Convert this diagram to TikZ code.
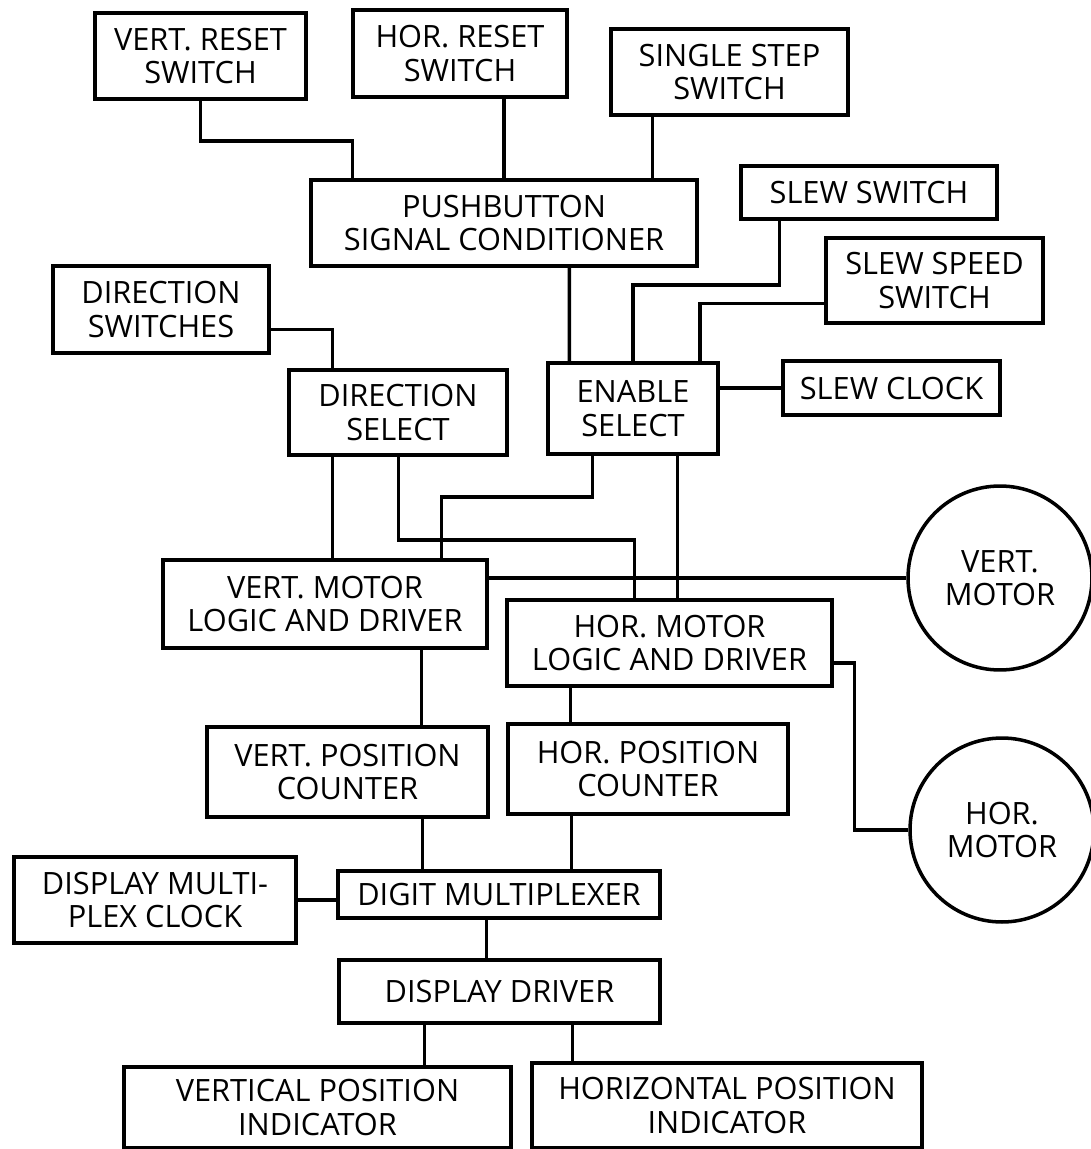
\documentclass[tikz,border=0pt]{standalone}
\usepackage{fontspec}
\setmainfont{Open Sans}
\usetikzlibrary{calc}
\tikzstyle{block} = [rectangle, draw=black, line width=2pt, align=center, inner sep=0pt, font=\fontsize{17.5}{19}\selectfont]
\tikzstyle{motor} = [circle, draw=black, line width=2pt, align=center, inner sep=0pt, minimum size=3.68cm, font=\fontsize{17.5}{19}\selectfont]
\tikzstyle{wire} = [line width=2pt]

\begin{document}
\begin{tikzpicture}[x=0.02cm, y=-0.02cm]
\useasboundingbox (0,0) rectangle (1091,1149);

% switches and conditioner
\node (vreset) [block, minimum width=4.22cm, minimum height=1.72cm] at (200.5,56) {VERT. RESET\\SWITCH};
\node (hreset) [block, minimum width=4.28cm, minimum height=1.74cm] at (460,53.5) {HOR. RESET\\SWITCH};
\node (sstep) [block, minimum width=4.74cm, minimum height=1.72cm] at (729.5,72) {SINGLE STEP\\SWITCH};
\node (pushbtn) [block, minimum width=7.72cm, minimum height=1.72cm] at (504,223) {PUSHBUTTON\\SIGNAL CONDITIONER};
\node (slewsw) [block, minimum width=5.12cm, minimum height=1.06cm] at (869,192.5) {SLEW SWITCH};
\node (slewspd) [block, minimum width=4.34cm, minimum height=1.70cm] at (934.5,280.5) {SLEW SPEED\\SWITCH};
\node (dirsw) [block, minimum width=4.32cm, minimum height=1.74cm] at (161,309.5) {DIRECTION\\SWITCHES};

% select stage
\node (dirsel) [block, minimum width=4.36cm, minimum height=1.70cm] at (398,412.5) {DIRECTION\\SELECT};
\node (ensel) [block, minimum width=3.40cm, minimum height=1.82cm] at (633,408.5) {ENABLE\\SELECT};
\node (slewclk) [block, minimum width=4.34cm, minimum height=1.08cm] at (891.5,388) {SLEW CLOCK};

% motors
\node (vmotor) [block, minimum width=6.48cm, minimum height=1.76cm] at (325,604) {VERT. MOTOR\\LOGIC AND DRIVER};
\node (hmotor) [block, minimum width=6.50cm, minimum height=1.72cm] at (669.5,643) {HOR. MOTOR\\LOGIC AND DRIVER};
\node (vmot) [motor] at (1000,578) {VERT.\\MOTOR};
\node (hmot) [motor] at (1002,830) {HOR.\\MOTOR};

% counters and display
\node (vposc) [block, minimum width=5.62cm, minimum height=1.80cm] at (347.5,772) {VERT. POSITION\\COUNTER};
\node (hposc) [block, minimum width=5.60cm, minimum height=1.80cm] at (648,769) {HOR. POSITION\\COUNTER};
\node (dclk) [block, minimum width=5.64cm, minimum height=1.72cm] at (155,900) {DISPLAY MULTI-\\PLEX CLOCK};
\node (dmux) [block, minimum width=6.44cm, minimum height=0.94cm] at (499,894.5) {DIGIT MULTIPLEXER};
\node (ddrv) [block, minimum width=6.42cm, minimum height=1.26cm] at (499.5,991.5) {DISPLAY DRIVER};
\node (vind) [block, minimum width=7.74cm, minimum height=1.62cm] at (317.5,1107.5) {VERTICAL POSITION\\INDICATOR};
\node (hind) [block, minimum width=7.80cm, minimum height=1.70cm] at (727,1105.5) {HORIZONTAL POSITION\\INDICATOR};

% connections
\draw [wire] (vreset.south) -- ++(0,40) -| ($(pushbtn.north west)+(43,0)$);
\draw [wire] (pushbtn.north) -- (pushbtn.north |- hreset.south);
\draw [wire] ($(sstep.south west)+(43,0)$) -- ++(0,65);
\draw [wire] ($(slewsw.south west)+(40,0)$) -- ++(0,64) -| (ensel.north);
\draw [wire] ($(slewspd.west)+(0,23)$) -| ($(ensel.north east)+(-20,0)$);
\draw [wire] ($(pushbtn.south west)+(260,0)$) -- ($(ensel.north west)+(23,0)$);
\draw [wire] ($(dirsw.east)+(0,20)$) -| ($(dirsel.north west)+(45,0)$);
\draw [wire] (slewclk.west) -- (slewclk.west -| ensel.east);
\draw [wire] ($(dirsel.south west)+(45,0)$) -- ++(0,105);
\draw [wire] ($(dirsel.south west)+(111,0)$) -- ++(0,83) -| ($(hmotor.north west)+(129,0)$);
\draw [wire] ($(ensel.south west)+(46,0)$) -- ++(0,41) -| ($(vmotor.north west)+(280,0)$);
\draw [wire] ($(ensel.south west)+(131,0)$) -- ++(0,146);
\draw [wire] ($(vmotor.east)+(0,-26)$) -- (vmot.west);
\draw [wire] ($(hmotor.east)+(0,20)$) -- ++(21,0) |- (hmot.west);
\draw [wire] ($(vmotor.south west)+(260,0)$) -- ++(0,79);
\draw [wire] ($(hmotor.south west)+(65,0)$) -- ++(0,38);
\draw [wire] ($(vposc.south west)+(217,0)$) -- ++(0,54);
\draw [wire] ($(hposc.south west)+(65,0)$) -- ++(0,57);
\draw [wire] (dclk.east) -- (dclk.east -| dmux.west);
\draw [wire] ($(dmux.south west)+(150,0)$) -- ++(0,42);
\draw [wire] ($(ddrv.south west)+(87,0)$) -- ++(0,44);
\draw [wire] ($(ddrv.south west)+(235,0)$) -- ++(0,40);
\end{tikzpicture}
\end{document}
